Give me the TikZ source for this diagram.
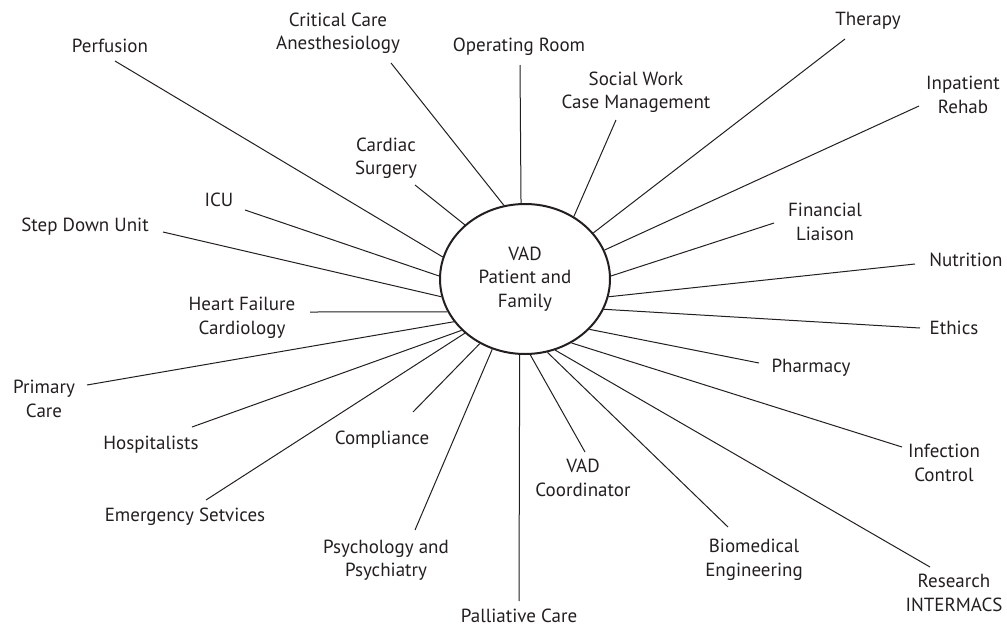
\documentclass[tikz,border=0pt]{standalone}
\usepackage{fontspec}
\setmainfont{PT Sans}
\usepackage{xcolor}
\definecolor{inkgray}{RGB}{35,31,32}
\usetikzlibrary{shapes.geometric}
\tikzset{
  hub/.style={draw=inkgray, ellipse, line width=2pt,
    minimum width=170pt, minimum height=150pt, inner sep=0pt,
    align=center, text=inkgray, font=\fontsize{19}{23.5}\selectfont},
  team/.style={inner sep=0pt, align=center, text=inkgray,
    font=\fontsize{19}{23.5}\selectfont},
  spoke/.style={draw=inkgray, line width=1pt},
}

\begin{document}
\begin{tikzpicture}[x=1pt, y=-1pt]
  \useasboundingbox (0,0) rectangle (1007,627);

  % Centre
  \node[hub] (vad) at (525,279) {VAD\\Patient and\\Family};

  % Upper teams
  \node[team] (perf) at (110,46) {Perfusion};
  \node[team] (crit) at (338,33) {Critical Care\\Anesthesiology};
  \node[team] (oproom) at (519,47) {Operating Room};
  \node[team] (cardsurg) at (386,158) {Cardiac\\Surgery};
  \node[team] (social) at (636,92) {Social Work\\Case Management};
  \node[team] (therapy) at (868,21) {Therapy};
  \node[team] (inpat) at (963,95) {Inpatient\\Rehab};

  % Right teams
  \node[team] (fin) at (825,222) {Financial\\Liaison};
  \node[team] (nutr) at (966,260) {Nutrition};
  \node[team] (ethics) at (954,328) {Ethics};
  \node[team] (pharm) at (811,368) {Pharmacy};
  \node[team] (infect) at (944,463) {Infection\\Control};
  \node[team] (research) at (954,593) {Research\\INTERMACS};

  % Lower teams
  \node[team] (biomed) at (754,560) {Biomedical\\Engineering};
  \node[team] (vadco) at (583,478) {VAD\\Coordinator};
  \node[team] (pall) at (519,616) {Palliative Care};
  \node[team] (psych) at (386,560) {Psychology and\\Psychiatry};
  \node[team] (compl) at (382,440) {Compliance};
  \node[team] (emerg) at (185,517) {Emergency Setvices};
  \node[team] (hosp) at (151,445) {Hospitalists};

  % Left teams
  \node[team] (primary) at (44,399) {Primary\\Care};
  \node[team] (hf) at (242,318) {Heart Failure\\Cardiology};
  \node[team] (stepdown) at (85,227) {Step Down Unit};
  \node[team] (icu) at (219,200) {ICU};

  % Free ends of the spokes
  \coordinate (perf-end) at (115,61);
  \coordinate (crit-end) at (391,63);
  \coordinate (oproom-end) at (520,65);
  \coordinate (cardsurg-end) at (415,185);
  \coordinate (social-end) at (616,120);
  \coordinate (therapy-end) at (845,39);
  \coordinate (inpat-end) at (919,106);
  \coordinate (fin-end) at (774,223);
  \coordinate (nutr-end) at (915,264);
  \coordinate (ethics-end) at (920,328);
  \coordinate (pharm-end) at (759,363);
  \coordinate (infect-end) at (902,447);
  \coordinate (research-end) at (930,567);
  \coordinate (biomed-end) at (728,527);
  \coordinate (vadco-end) at (585,452);
  \coordinate (pall-end) at (519,601);
  \coordinate (psych-end) at (415,530);
  \coordinate (compl-end) at (413,412);
  \coordinate (emerg-end) at (206,500);
  \coordinate (hosp-end) at (192,427);
  \coordinate (primary-end) at (87,385);
  \coordinate (hf-end) at (310,312);
  \coordinate (stepdown-end) at (163,232);
  \coordinate (icu-end) at (245,210);

  % Spokes
  \draw[spoke] (vad.165.6) -- (perf-end);
  \draw[spoke] (vad.106.8) -- (crit-end);
  \draw[spoke] (vad.93.8) -- (oproom-end);
  \draw[spoke] (vad.138) -- (cardsurg-end);
  \draw[spoke] (vad.52.3) -- (social-end);
  \draw[spoke] (vad.34.6) -- (therapy-end);
  \draw[spoke] (vad.20.9) -- (inpat-end);
  \draw[spoke] (vad.2.6) -- (fin-end);
  \draw[spoke] (vad.-12) -- (nutr-end);
  \draw[spoke] (vad.-21.9) -- (ethics-end);
  \draw[spoke] (vad.-38.8) -- (pharm-end);
  \draw[spoke] (vad.-54.4) -- (infect-end);
  \draw[spoke] (vad.-67) -- (research-end);
  \draw[spoke] (vad.-73) -- (biomed-end);
  \draw[spoke] (vad.-86.2) -- (vadco-end);
  \draw[spoke] (vad.-94.6) -- (pall-end);
  \draw[spoke] (vad.245.7) -- (psych-end);
  \draw[spoke] (vad.235.7) -- (compl-end);
  \draw[spoke] (vad.222.5) -- (emerg-end);
  \draw[spoke] (vad.219.1) -- (hosp-end);
  \draw[spoke] (vad.211.8) -- (primary-end);
  \draw[spoke] (vad.203.4) -- (hf-end);
  \draw[spoke] (vad.192.9) -- (stepdown-end);
  \draw[spoke] (vad.178) -- (icu-end);
\end{tikzpicture}
\end{document}
